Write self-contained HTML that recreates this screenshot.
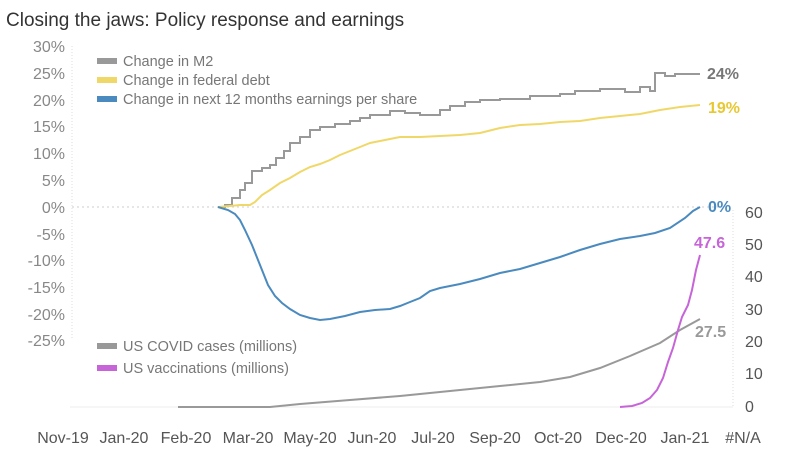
<!DOCTYPE html>
<html><head><meta charset="utf-8"><style>
body{margin:0;background:#fff;}
svg text{font-family:"Liberation Sans",sans-serif;}
</style></head><body>
<svg width="800" height="450" viewBox="0 0 800 450">
<text x="6" y="26" font-size="19" fill="#333">Closing the jaws: Policy response and earnings</text>
<g font-size="16" fill="#888" text-anchor="end">
<text x="65" y="52">30%</text><text x="65" y="79">25%</text><text x="65" y="106">20%</text><text x="65" y="132">15%</text><text x="65" y="159">10%</text><text x="65" y="186">5%</text><text x="65" y="213">0%</text><text x="65" y="240">-5%</text><text x="65" y="266">-10%</text><text x="65" y="293">-15%</text><text x="65" y="320">-20%</text><text x="65" y="346">-25%</text>
</g>
<line x1="72" y1="46" x2="72" y2="340" stroke="#ddd" stroke-dasharray="1,2"/>
<line x1="72" y1="207" x2="720" y2="207" stroke="#ccc" stroke-dasharray="2,3"/>
<line x1="733" y1="210" x2="733" y2="407" stroke="#ddd" stroke-dasharray="1,2"/>
<line x1="70" y1="407" x2="733" y2="407" stroke="#eee"/>
<g font-size="16" fill="#555" text-anchor="start">
<text x="745" y="218">60</text><text x="745" y="250">50</text><text x="745" y="282">40</text><text x="745" y="315">30</text><text x="745" y="347">20</text><text x="745" y="379">10</text><text x="745" y="412">0</text>
</g>
<g font-size="16" fill="#555" text-anchor="middle">
<text x="63" y="443">Nov-19</text><text x="124" y="443">Jan-20</text><text x="186" y="443">Feb-20</text><text x="248" y="443">Mar-20</text><text x="310" y="443">May-20</text><text x="372" y="443">Jun-20</text><text x="433" y="443">Jul-20</text><text x="495" y="443">Sep-20</text><text x="558" y="443">Oct-20</text><text x="621" y="443">Dec-20</text><text x="685" y="443">Jan-21</text><text x="743" y="443">#N/A</text>
</g>
<g font-size="14.5" fill="#777">
<rect x="97" y="58" width="20" height="6" fill="#999"/><text x="123" y="66">Change in M2</text>
<rect x="97" y="77" width="20" height="6" fill="#f0d868"/><text x="123" y="85">Change in federal debt</text>
<rect x="97" y="96" width="20" height="6" fill="#4a8abf"/><text x="123" y="104">Change in next 12 months earnings per share</text>
<rect x="97" y="343" width="20" height="6" fill="#999"/><text x="123" y="351">US COVID cases (millions)</text>
<rect x="97" y="365" width="20" height="6" fill="#c664d8"/><text x="123" y="373">US vaccinations (millions)</text>
</g>
<g fill="none" stroke-width="2">
<polyline stroke="#999" points="218,207 225,207 225,205 232,205 232,198 240,198 240,190 245,190 245,183 252,183 252,171 262,171 262,168 270,168 270,165 276,165 276,158 284,158 284,151 290,151 290,143 300,143 300,137 310,137 310,130 320,130 320,127 335,127 335,124 350,124 350,121 360,121 360,118 370,118 370,115 390,115 390,111 405,111 405,113 420,113 420,115 440,115 440,110 450,110 450,106 465,106 465,102 480,102 480,100 500,100 500,99 530,99 530,96 560,96 560,94 575,94 575,91 600,91 600,89 625,89 625,92 640,92 640,87 650,87 650,91 655,91 655,73 665,73 665,76 675,76 675,74 700,74"/>
<polyline stroke="#f0d868" points="218,207 230,206 240,205 250,205 255,202 262,195 270,190 280,183 290,178 300,172 310,167 320,164 330,160 340,155 350,151 360,147 370,143 380,141 390,139 400,137 420,137 440,136 460,135 480,133 500,128 520,125 540,124 560,122 580,121 600,118 620,116 640,114 660,110 680,107 700,105"/>
<polyline stroke="#4a8abf" points="218,207 228,210 235,214 240,220 245,230 252,245 260,265 268,285 275,296 282,303 290,309 300,315 310,318 320,320 330,319 345,316 360,312 375,310 390,309 400,306 410,302 420,298 430,291 440,288 460,284 480,279 500,273 520,269 540,263 560,257 580,250 600,244 620,239 640,236 655,233 670,228 685,218 693,211 700,207"/>
<polyline stroke="#999" points="178,407 270,407 300,404 350,400 400,396 450,391 500,386 540,382 570,377 600,368 630,356 660,343 680,330 700,319"/>
<polyline stroke="#c664d8" points="620,407 632,406 642,403 650,398 657,390 663,378 668,362 673,348 678,330 682,317 688,305 692,290 696,270 700,255"/>
</g>
<g font-size="16" font-weight="bold">
<text x="707" y="79" fill="#777">24%</text>
<text x="708" y="113" fill="#e8c830">19%</text>
<text x="708" y="212" fill="#4a8abf">0%</text>
<text x="694" y="248" fill="#c664d8">47.6</text>
<text x="695" y="337" fill="#999">27.5</text>
</g>
</svg>
</body></html>
